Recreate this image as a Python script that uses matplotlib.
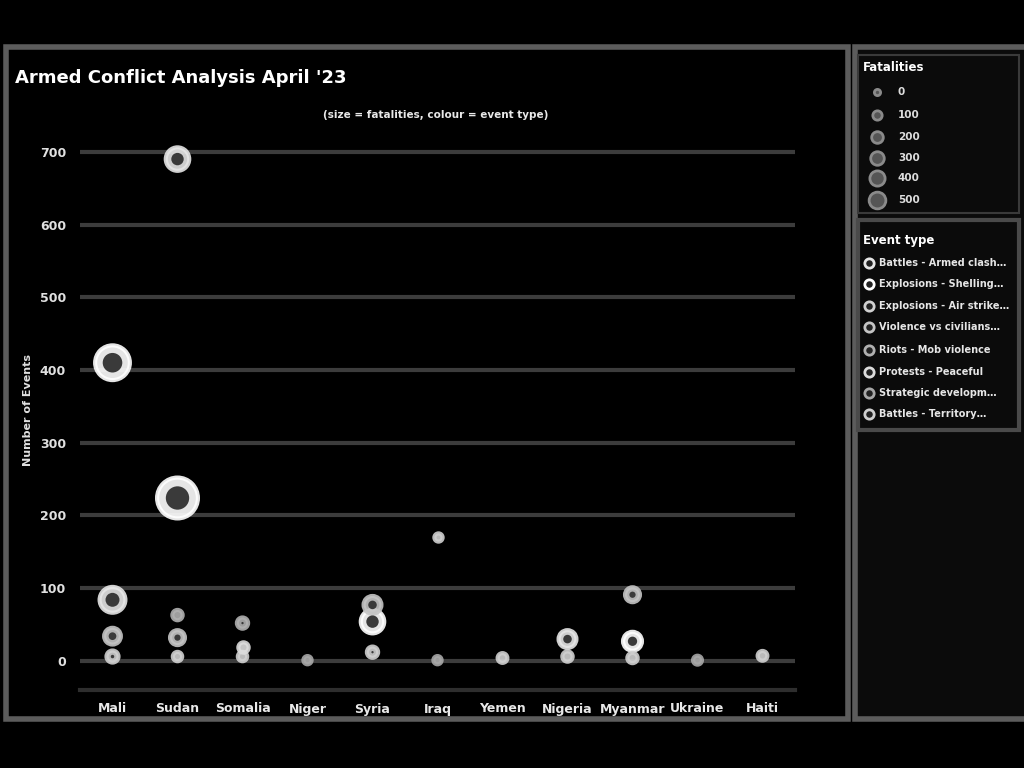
import matplotlib
matplotlib.use("Agg")
import matplotlib.pyplot as plt
from matplotlib.patches import Rectangle
import numpy as np

# ---------------- data ----------------
countries = ["Mali", "Sudan", "Somalia", "Niger", "Syria", "Iraq",
             "Yemen", "Nigeria", "Myanmar", "Ukraine", "Haiti"]
y_ticks = [0, 100, 200, 300, 400, 500, 600, 700]

event_types = ["Battles - Armed clash…", "Explosions - Shelling…",
               "Explosions - Air strike…", "Violence vs civilians…",
               "Riots - Mob violence", "Protests - Peaceful",
               "Strategic developm…", "Battles - Territory…"]
type_colors = ["#e6e6e6", "#ffffff", "#d0d0d0", "#c4c4c4",
               "#b0b0b0", "#dcdcdc", "#a8a8a8", "#cfcfcf"]

pt_country = [0, 0, 0, 0,
              1, 1, 1, 1, 1,
              2, 2, 2,
              3,
              4, 4, 4,
              5, 5,
              6,
              7, 7,
              8, 8, 8,
              9,
              10]
pt_events = [410, 84, 34, 6,
             690, 224, 63, 32, 6,
             52, 19, 6,
             1,
             77, 54, 12,
             171, 1,
             4,
             30, 6,
             91, 27, 4,
             1,
             7]
pt_fatalities = [300, 160, 60, 25,
                 130, 420, 15, 45, 10,
                 20, 15, 10,
                 5,
                 70, 130, 20,
                 5, 5,
                 12,
                 70, 15,
                 45, 80, 15,
                 8,
                 12]
pt_type = [1, 0, 3, 2,
           0, 1, 4, 3, 2,
           4, 5, 2,
           6,
           3, 1, 2,
           7, 6,
           2,
           0, 2,
           3, 1, 2,
           6,
           2]

size_legend_vals = [0, 100, 200, 300, 400, 500]

# ---------------- figure ----------------
W, H = 1024, 768
fig = plt.figure(figsize=(W / 100, H / 100), dpi=100, facecolor="black")


def fx(px):
    return px / W


def fy(py):
    return 1 - py / H


border = "#5c5c5c"
fig.patches.append(Rectangle((fx(6), fy(719)), fx(842), 672 / H, transform=fig.transFigure,
                             facecolor="black", edgecolor=border, lw=4, zorder=-10))
fig.patches.append(Rectangle((fx(855), fy(719)), fx(175), 672 / H, transform=fig.transFigure,
                             facecolor="#0b0b0b", edgecolor=border, lw=4, zorder=-10))

ax = fig.add_axes([fx(80), fy(690), 715 / W, 560 / H])
ax.set_facecolor("none")

ax.set_xlim(-0.5, len(countries) - 0.5)
ax.set_ylim(-40, 730)
for yt in y_ticks:
    ax.axhline(yt, color="#3c3c3c", lw=3, zorder=0)

sizes = 25 + np.array(pt_fatalities) * 2.0
for t in range(len(event_types)):
    idx = [i for i, tt in enumerate(pt_type) if tt == t]
    if not idx:
        continue
    col = type_colors[t]
    xs = [pt_country[i] for i in idx]
    ys = [pt_events[i] for i in idx]
    ax.scatter(xs, ys, s=[sizes[i] for i in idx], facecolor=col, edgecolor=col,
               linewidth=3, alpha=0.9, zorder=3)
    ax.scatter(xs, ys, s=[max(sizes[i] * 0.35 - 20, 0) for i in idx], facecolor="#3a3a3a",
               edgecolor="none", zorder=4)

ax.set_xticks(range(len(countries)))
ax.set_xticklabels(countries, color="#e8e8e8", fontsize=9, fontweight="bold")
ax.set_yticks(y_ticks)
ax.set_yticklabels([str(v) for v in y_ticks], color="#e0e0e0", fontsize=9, fontweight="bold")
ax.tick_params(axis="x", length=0, pad=9)
ax.tick_params(axis="y", length=0, pad=10)
for s in ["top", "right", "left"]:
    ax.spines[s].set_visible(False)
ax.spines["bottom"].set_color("#2e2e2e")
ax.spines["bottom"].set_linewidth(3)
ax.set_ylabel("Number of Events", color="#e0e0e0", fontsize=8, fontweight="bold", labelpad=5)

fig.text(fx(15), fy(78), "Armed Conflict Analysis April '23", color="white",
         fontsize=13, fontweight="bold", va="center", ha="left")
fig.text(fx(436), fy(115), "(size = fatalities, colour = event type)", color="#e8e8e8",
         fontsize=7.5, fontweight="bold", va="center", ha="center")

# ---------------- legend panel ----------------
lax = fig.add_axes([fx(855), fy(719), 169 / W, 672 / H])
lax.set_xlim(855, 1024)
lax.set_ylim(719, 47)
lax.axis("off")

lax.add_patch(Rectangle((858, 55), 161, 158, facecolor="#0b0b0b", edgecolor="#3a3a3a", lw=1.5))
lax.text(863, 67, "Fatalities", color="white", fontsize=8.5, fontweight="bold", va="center")
rows_y = [92, 115, 137, 158, 178, 200]
for v, yy in zip(size_legend_vals, rows_y):
    lax.scatter([877], [yy], s=20 + v * 0.25, facecolor="#555555", edgecolor="#8a8a8a", lw=2)
    lax.text(898, yy, str(v), color="#dddddd", fontsize=7.5, fontweight="bold", va="center")

lax.add_patch(Rectangle((858, 220), 161, 210, facecolor="#0b0b0b", edgecolor="#4a4a4a", lw=3))
lax.text(863, 240, "Event type", color="white", fontsize=8.5, fontweight="bold", va="center")
rows_t = [263, 284, 306, 327, 350, 372, 393, 414]
for lab, col, yy in zip(event_types, type_colors, rows_t):
    lax.scatter([869], [yy], s=45, facecolor="#222222", edgecolor=col, lw=2)
    lax.text(879, yy, lab, color="#e6e6e6", fontsize=7, fontweight="bold", va="center")

fig.savefig("out.png", dpi=100, facecolor="black")
